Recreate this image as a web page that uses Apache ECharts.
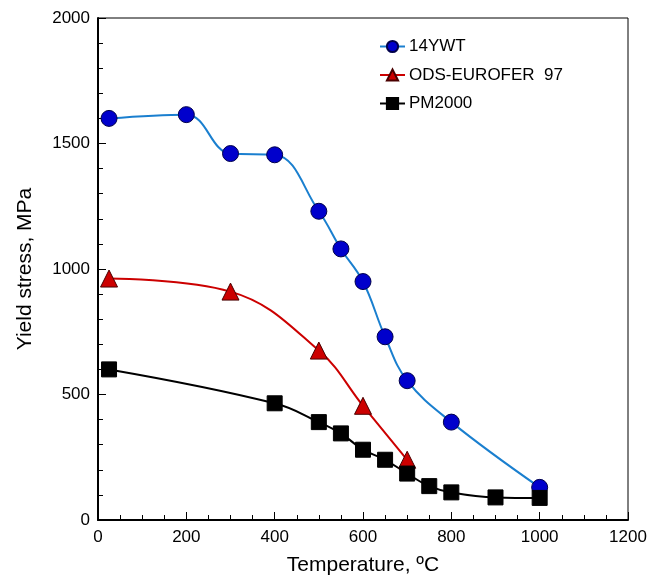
<!DOCTYPE html>
<html><head><meta charset="utf-8">
<script src="https://cdn.jsdelivr.net/npm/echarts@6/dist/echarts.min.js"></script>
<style>html,body{margin:0;padding:0;background:#fff;overflow:hidden}#c{width:661px;height:581px}</style>
</head><body><div id="c"></div>
<script>
var ywtX = [25, 200, 300, 400, 500, 550, 600, 650, 700, 800, 1000];
var ywtY = [1600, 1615, 1460, 1455, 1230, 1080, 950, 730, 555, 390, 130];
var odsX = [25, 300, 500, 600, 700];
var odsY = [962, 910, 675, 455, 240];
var pmX = [25, 400, 500, 550, 600, 650, 700, 750, 800, 900, 1000];
var pmY = [600, 465, 390, 345, 280, 240, 185, 135, 110, 90, 88];
function pairs(xs, ys){ return xs.map(function(x,i){return [x, ys[i]];}); }
var font = 'Liberation Sans, Arial, sans-serif';
var chart = echarts.init(document.getElementById('c'));
chart.setOption({
  animation:false,
  backgroundColor:'#fff',
  grid:{left:98,right:33,top:18,bottom:55,show:true,borderColor:'#000',borderWidth:1},
  legend:{orient:'vertical',left:374,top:33,itemGap:11.5,itemWidth:25,itemHeight:14,
    textStyle:{fontFamily:font,fontSize:17,color:'#000',padding:[0,0,0,-1]},
    data:['14YWT','ODS-EUROFER  97','PM2000']},
  xAxis:{type:'value',min:0,max:1200,interval:200,
    name:'Temperature, ºC',nameLocation:'middle',nameGap:35,
    nameTextStyle:{fontFamily:font,fontSize:21,color:'#000'},
    axisLine:{lineStyle:{color:'#000',width:2}},
    axisTick:{inside:true,length:8,lineStyle:{color:'#000'}},
    minorTick:{show:true,splitNumber:4,length:5,lineStyle:{color:'#000'}},
    axisLabel:{fontFamily:font,fontSize:17,color:'#000',margin:9,formatter:function(v){return String(v);}},
    splitLine:{show:false}},
  yAxis:{type:'value',min:0,max:2000,interval:500,
    name:'Yield stress, MPa',nameLocation:'middle',nameGap:62,
    nameTextStyle:{fontFamily:font,fontSize:21,color:'#000'},
    axisLine:{lineStyle:{color:'#000',width:2}},
    axisTick:{inside:true,length:8,lineStyle:{color:'#000'}},
    minorTick:{show:true,splitNumber:5,length:5,lineStyle:{color:'#000'}},
    axisLabel:{fontFamily:font,fontSize:17,color:'#000',margin:8,formatter:function(v){return String(v);}},
    splitLine:{show:false}},
  series:[
    {name:'14YWT',type:'line',smooth:0.4,data:pairs(ywtX,ywtY),
     symbol:'circle',symbolSize:16,
     lineStyle:{color:'#1a7fcf',width:2},
     itemStyle:{color:'#0000cc',borderColor:'#00004a',borderWidth:1}},
    {name:'ODS-EUROFER  97',type:'line',smooth:0.4,data:pairs(odsX,odsY),
     symbol:'triangle',symbolSize:17,
     lineStyle:{color:'#cc0000',width:2},
     itemStyle:{color:'#cc0000',borderColor:'#4a0000',borderWidth:1}},
    {name:'PM2000',type:'line',smooth:0.4,data:pairs(pmX,pmY),
     symbol:'rect',symbolSize:15,
     lineStyle:{color:'#000',width:2},
     itemStyle:{color:'#000',borderColor:'#000',borderWidth:1}}
  ]
});
</script></body></html>
